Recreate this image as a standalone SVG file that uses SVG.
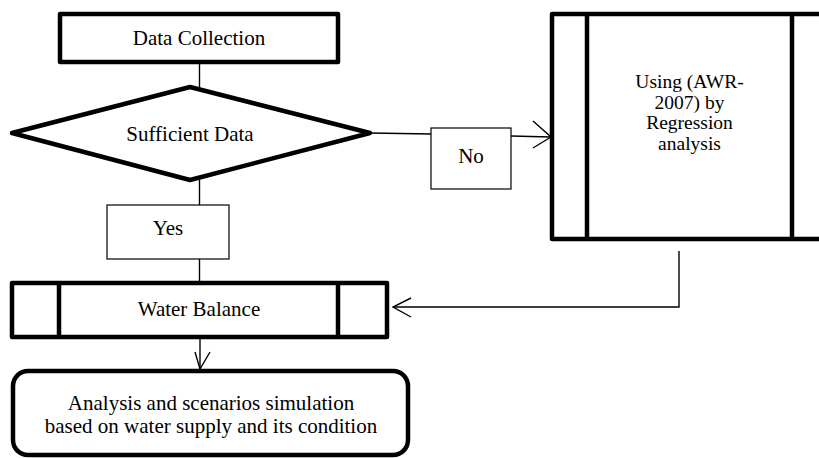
<svg xmlns="http://www.w3.org/2000/svg" width="819" height="458" viewBox="0 0 819 458">
<style>
.thick{fill:#fff;stroke:#000;stroke-width:4.5;stroke-linejoin:round}
.thin{fill:#fff;stroke:#000;stroke-width:1.2}
.line{fill:none;stroke:#000;stroke-width:1.4}
.t{font-family:'Liberation Serif','Times New Roman','DejaVu Serif',serif;font-size:21px;fill:#000;text-anchor:middle}
.s{font-size:19.5px}
</style>
<rect width="819" height="458" fill="#fff"/>
<g id="connectors">
<path class="line" d="M199.5 62 V88"/>
<path class="line" d="M199.5 180 V205"/>
<path class="line" d="M199.5 259 V284"/>
<path class="line" d="M370 133 L431 134"/>
<path class="line" d="M511 136 L551 137"/>
<path class="line" d="M533 121 L551 137 L533 148"/>
<path class="line" d="M679 251 V307 H393"/>
<path class="line" d="M411 298 L393 307 L411 317"/>
<path class="line" d="M200 337 V370"/>
<path class="line" d="M195 352 L200 369 L210 352"/>
</g>
<g id="data-collection">
<rect class="thick" x="60" y="14" width="278" height="48"/>
<text class="t" x="199" y="45" font-family="Liberation Serif, serif">Data Collection</text>
</g>
<g id="sufficient-data">
<polygon class="thick" points="12,133 190,87 370,133 190,180"/>
<text class="t" x="190" y="141">Sufficient Data</text>
</g>
<g id="no-label">
<rect class="thin" x="431" y="128" width="80" height="61"/>
<text class="t" x="471" y="163">No</text>
</g>
<g id="yes-label">
<rect class="thin" x="107" y="205" width="122" height="54"/>
<text class="t" x="168" y="235">Yes</text>
</g>
<g id="regression">
<rect class="thick" x="552" y="14" width="275" height="225"/>
<line class="thick" x1="587" y1="14" x2="587" y2="239"/>
<line class="thick" x1="792" y1="14" x2="792" y2="239"/>
<text class="t s" x="689.5" y="88">Using (AWR-</text>
<text class="t s" x="689.5" y="108.5">2007) by</text>
<text class="t s" x="689.5" y="129">Regression</text>
<text class="t s" x="689.5" y="149.5">analysis</text>
</g>
<g id="water-balance">
<rect class="thick" x="12" y="283" width="375" height="54"/>
<line class="thick" x1="59" y1="283" x2="59" y2="337"/>
<line class="thick" x1="338" y1="283" x2="338" y2="337"/>
<text class="t" x="199" y="316">Water Balance</text>
</g>
<g id="analysis">
<rect class="thick" x="13" y="371" width="395" height="84" rx="15" ry="15"/>
<text class="t" x="211" y="410">Analysis and scenarios simulation</text>
<text class="t" x="211" y="433">based on water supply and its condition</text>
</g>
</svg>
